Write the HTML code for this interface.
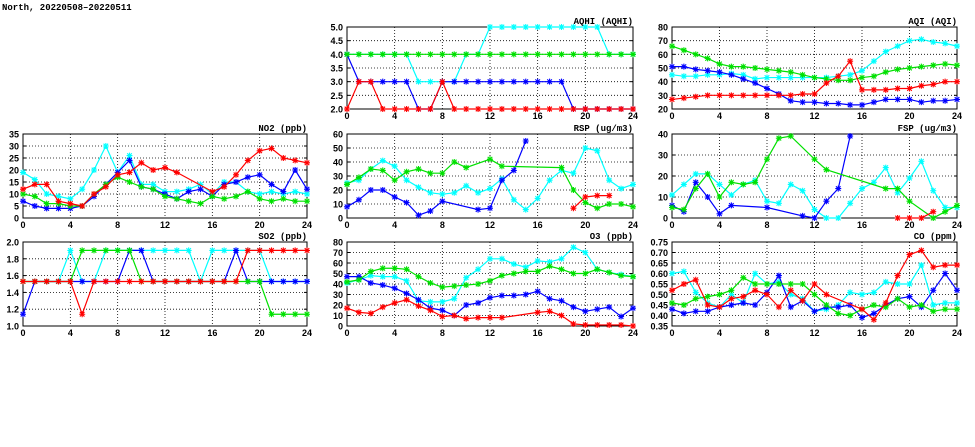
<!DOCTYPE html>
<html><head><meta charset="utf-8"><style>
body{margin:0;background:#fff;width:975px;height:447px;overflow:hidden;font-family:"Liberation Sans",sans-serif}
svg{display:block}
</style></head><body>
<svg id="c" width="975" height="447" xmlns="http://www.w3.org/2000/svg">
<text x="2" y="10" font-size="9" font-weight="bold" font-family="Liberation Mono, monospace">North, 20220508–20220511</text>
</svg>
<script>
const hours=[0,1,2,3,4,5,6,7,8,9,10,11,12,13,14,15,16,17,18,19,20,21,22,23,24];
const xTicks=[0,4,8,12,16,20,24];
const N=null;
// NO2
const no2Red=[12,14,14,7,6,5,10,13,18,19,23,20,21,19,N,N,11,13,18,24,28,29,25,24,23];
const no2Green=[10,9,6,6,5,5,10,14,17,15,13,12,9,8,7,6,9,8,9,11,8,7,8,7,7];
const no2Blue=[7,5,4,4,4,5,9,14,19,24,13,12,10,8,11,12,9,14,15,17,18,14,11,20,12];
const no2Cyan=[19,16,10,9,8,12,20,30,19,26,14,14,11,11,12,14,10,15,15,11,10,11,10,11,10];
const no2Ticks=["0","5","10","15","20","25","30","35"];
// SO2
const so2Red=[1.53,1.53,1.53,1.53,1.53,1.14,1.53,1.53,1.53,1.53,1.53,1.53,1.53,1.53,1.53,1.53,1.53,1.53,1.53,1.9,1.9,1.9,1.9,1.9,1.9];
const so2Green=[1.53,1.53,1.53,1.53,1.53,1.9,1.9,1.9,1.9,1.9,1.53,1.53,1.53,1.53,1.53,1.53,1.53,1.53,1.53,1.53,1.53,1.14,1.14,1.14,1.14];
const so2Blue=[1.14,1.53,1.53,1.53,1.53,1.53,1.53,1.53,1.53,1.9,1.9,1.53,1.53,1.53,1.53,1.53,1.53,1.53,1.9,1.53,1.53,1.53,1.53,1.53,1.53];
const so2Cyan=[1.53,1.53,1.53,1.53,1.9,1.53,1.53,1.9,1.9,1.9,1.9,1.9,1.9,1.9,1.9,1.53,1.9,1.9,1.9,1.9,1.9,1.53,1.53,1.53,1.53];
const so2Ticks=["1.0","1.2","1.4","1.6","1.8","2.0"];
// AQHI
const aqhiRed=[2,3,3,2,2,2,2,2,3,2,2,2,2,2,2,2,2,2,2,2,2,2,2,2,2];
const aqhiGreen=[4,4,4,4,4,4,4,4,4,4,4,4,4,4,4,4,4,4,4,4,4,4,4,4,4];
const aqhiBlue=[4,3,3,3,3,3,2,2,3,3,3,3,3,3,3,3,3,3,3,2,2,2,2,2,2];
const aqhiCyan=[4,4,4,4,4,4,3,3,3,3,4,4,5,5,5,5,5,5,5,5,5,5,4,4,4];
const aqhiTicks=["2.0","2.5","3.0","3.5","4.0","4.5","5.0"];
// AQI
const aqiRed=[27,28,29,30,30,30,30,30,30,30,30,31,31,39,44,55,34,34,34,35,35,37,38,40,40];
const aqiGreen=[66,63,60,57,53,51,51,50,49,48,47,45,43,42,41,41,43,44,47,49,50,51,52,53,52];
const aqiBlue=[51,51,49,48,47,45,42,39,35,31,26,25,25,24,24,23,23,25,27,27,27,25,26,26,27];
const aqiCyan=[45,44,44,45,45,46,45,42,43,43,43,43,43,43,44,45,48,55,62,66,70,71,69,68,66];
const aqiTicks=["20","30","40","50","60","70","80"];
// RSP
const rspRed=[N,N,N,N,N,N,N,N,N,N,N,N,N,N,N,N,N,N,N,7,15,16,16,N,N];
const rspGreen=[24,29,35,34,27,33,35,32,32,40,36,N,42,37,N,N,N,N,36,20,11,7,10,10,8];
const rspBlue=[8,13,20,20,15,11,2,5,12,N,N,6,7,27,34,55,N,N,N,N,N,N,N,N,N];
const rspCyan=[25,27,35,41,37,27,22,18,17,18,23,18,21,28,13,6,14,27,34,32,50,48,27,21,24];
const rspTicks=["0","10","20","30","40","50","60"];
// FSP
const fspRed=[N,N,N,N,N,N,N,N,N,N,N,N,N,N,N,N,N,N,N,0,0,0,3,N,N];
const fspGreen=[5,4,14,21,10,17,16,17,28,38,39,N,28,23,N,N,N,N,14,14,8,N,0,3,6];
const fspBlue=[6,3,17,10,2,6,N,N,5,N,N,1,0,8,14,39,N,N,N,N,N,N,N,N,N];
const fspCyan=[11,16,21,21,16,11,16,18,8,7,16,13,4,0,0,7,14,17,24,12,19,27,13,5,5];
const fspTicks=["0","10","20","30","40"];
// O3
const o3Red=[17,13,12,18,22,25,19,15,9,10,7,8,8,8,N,N,13,14,10,2,1,1,1,1,0];
const o3Green=[42,44,52,55,55,54,47,41,37,38,39,40,43,48,50,52,52,57,54,50,50,54,51,48,47];
const o3Blue=[47,47,41,39,36,31,25,17,15,10,20,22,27,29,29,30,33,26,24,18,14,16,18,9,17];
const o3Cyan=[41,44,48,47,47,43,24,23,23,26,46,54,64,64,59,56,62,61,64,75,70,54,51,49,47];
const o3Ticks=["0","10","20","30","40","50","60","70","80"];
// CO
const coRed=[.52,.55,.57,.45,.44,.48,.49,.52,.50,.44,.52,.47,.55,.50,N,N,.43,.38,.46,.59,.69,.71,.63,.64,.64];
const coGreen=[.46,.45,.48,.49,.50,.52,.58,.55,.55,.55,.55,.55,.50,.45,.41,.40,.43,.45,.44,.48,.44,.45,.42,.43,.43];
const coBlue=[.43,.41,.42,.42,.44,.45,.46,.45,.51,.59,.44,.47,.42,.44,.44,.45,.39,.41,.45,.48,.49,.44,.52,.60,.52];
const coCyan=[.60,.61,.51,.46,.44,.50,.46,.60,.55,.56,.50,.48,.42,.43,.45,.51,.50,.51,.56,.55,.55,.64,.45,.46,.46];
const coTicks=["0.35","0.40","0.45","0.50","0.55","0.60","0.65","0.70","0.75"];

const svg=document.getElementById('c');
const NS='http://www.w3.org/2000/svg';
const COLORS=['#ff0000','#00e000','#0000ff','#00ffff'];
const SNAMES=['red','green','blue','cyan'];
const DRAW_ORDER=[3,2,1,0];
function mk(tag,attrs,parent){const e=document.createElementNS(NS,tag);for(const k in attrs)e.setAttribute(k,attrs[k]);(parent||svg).appendChild(e);return e;}

function panel(name,title,x0,x1,y0,y1,ticks,series){
  const g=mk('g',{});
  
  
  const lo=parseFloat(ticks[0]),hi=parseFloat(ticks[ticks.length-1]);
  const sx=v=>x0+(v-0)/(24-0)*(x1-x0);
  const sy=v=>y1-(v-lo)/(hi-lo)*(y1-y0);
  ticks.forEach((t,i)=>{const y=sy(parseFloat(t));
    if(i>0&&i<ticks.length-1){const l=mk('line',{x1:x0,x2:x1,y1:y,y2:y,stroke:'#000','stroke-width':0.8,'stroke-dasharray':'1,2'},g);}
    const tl=mk('text',{x:x0-4,y:y+3.5,'font-size':9,'font-weight':'bold','text-anchor':'end','font-family':'Liberation Sans, sans-serif'},g);tl.textContent=t;
    
    
    mk('line',{x1:x0,x2:x0+3,y1:y,y2:y,stroke:'#000'},g);mk('line',{x1:x1-3,x2:x1,y1:y,y2:y,stroke:'#000'},g);
  });
  xTicks.forEach((t,i)=>{const x=sx(t);
    if(i>0&&i<xTicks.length-1){const l=mk('line',{x1:x,x2:x,y1:y0,y2:y1,stroke:'#000','stroke-width':0.8,'stroke-dasharray':'1,2'},g);}
    const tl=mk('text',{x:x,y:y1+10,'font-size':9,'font-weight':'bold','text-anchor':'middle','font-family':'Liberation Sans, sans-serif'},g);tl.textContent=t;
    
    
  });
  const fr=mk('rect',{x:x0,y:y0,width:x1-x0,height:y1-y0,fill:'none',stroke:'#000','stroke-width':1},g);
  
  
  const tt=mk('text',{x:x1,y:y0-3,'font-size':9,'font-weight':'bold','text-anchor':'end','font-family':'Liberation Mono, monospace'},g);tt.textContent=title;
  
  
  DRAW_ORDER.forEach(si=>{
    const vals=series[si];
    const col=COLORS[si];
    const pts=[];hours.forEach((h,i)=>{if(vals[i]!==null)pts.push([sx(h),sy(vals[i])]);});
    const pl=mk('polyline',{points:pts.map(p=>p.join(',')).join(' '),fill:'none',stroke:col,'stroke-width':1.2},g);
    
    
    pts.forEach(p=>{const m=mk('path',{d:`M${p[0]-3},${p[1]}h6M${p[0]},${p[1]-3}v6M${p[0]-2.3},${p[1]-2.3}l4.6,4.6M${p[0]-2.3},${p[1]+2.3}l4.6,-4.6`,stroke:col,'stroke-width':1.1,fill:'none'},g);
      
      });
  });
}
panel('aqhi','AQHI (AQHI)',347,633,27,109,aqhiTicks,[aqhiRed,aqhiGreen,aqhiBlue,aqhiCyan]);
panel('aqi','AQI (AQI)',672,957,27,109,aqiTicks,[aqiRed,aqiGreen,aqiBlue,aqiCyan]);
panel('no2','NO2 (ppb)',23,307,134,218,no2Ticks,[no2Red,no2Green,no2Blue,no2Cyan]);
panel('rsp','RSP (ug/m3)',347,633,134,218,rspTicks,[rspRed,rspGreen,rspBlue,rspCyan]);
panel('fsp','FSP (ug/m3)',672,957,134,218,fspTicks,[fspRed,fspGreen,fspBlue,fspCyan]);
panel('so2','SO2 (ppb)',23,307,242,326,so2Ticks,[so2Red,so2Green,so2Blue,so2Cyan]);
panel('o3','O3 (ppb)',347,633,242,326,o3Ticks,[o3Red,o3Green,o3Blue,o3Cyan]);
panel('co','CO (ppm)',672,957,242,326,coTicks,[coRed,coGreen,coBlue,coCyan]);
</script>
</body></html>
